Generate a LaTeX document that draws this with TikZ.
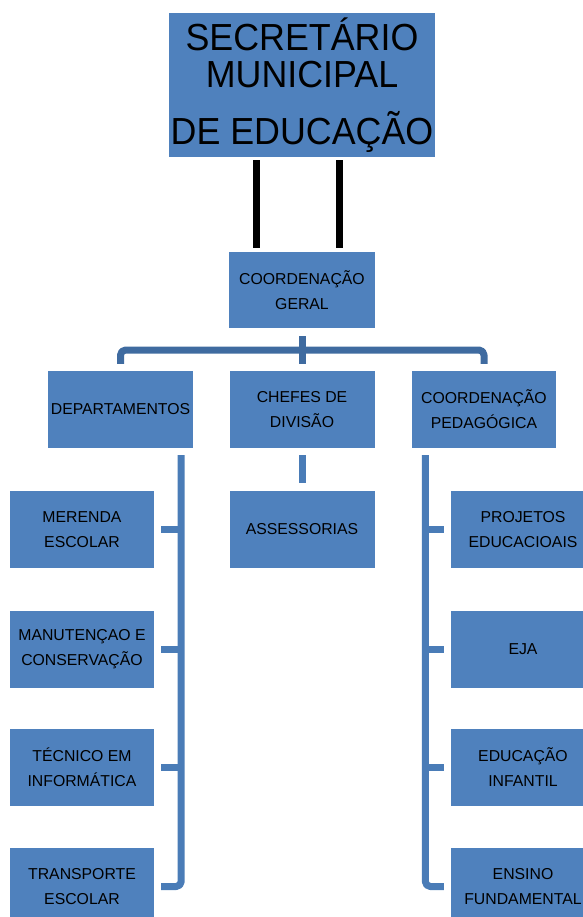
\documentclass[tikz,border=0pt]{standalone}
\usepackage{fontspec}
\setmainfont{Liberation Sans}
\newfontfamily\titlefont[FakeStretch=0.95]{Liberation Sans}
\definecolor{caixa}{HTML}{4F81BD}
\definecolor{linha}{HTML}{4A7CB7}
\definecolor{barra}{HTML}{3F6BA0}
\begin{document}
\begin{tikzpicture}[x=1pt,y=-1pt,line join=round,
	caixa/.style={fill=caixa,inner sep=0pt,align=center,minimum width=145pt,minimum height=77pt,font=\fontsize{15.8}{25}\selectfont},
	ligacao/.style={draw=linha,line width=7pt},
	preta/.style={draw=black,line width=7pt}]
	\useasboundingbox (0,0) rectangle (582,917);
	\def\xe{82} % coluna esquerda
	\def\xd{523} % coluna direita
	% caixas de cima
	\node[caixa,minimum width=266pt,minimum height=144pt,font=\titlefont\fontsize{37.7}{37}\selectfont] (sec) at (302,85) {SECRETÁRIO\\MUNICIPAL\\[20pt]DE EDUCAÇÃO};
	\node[caixa,minimum width=146pt,minimum height=76pt] (geral) at (302,290) {COORDENAÇÃO\\GERAL};
	\node[caixa] (dep) at (120.5,409.5) {DEPARTAMENTOS};
	\node[caixa] (chefes) at (302,409.5) {CHEFES DE\\DIVISÃO};
	\node[caixa,minimum width=144pt] (ped) at (484,409.5) {COORDENAÇÃO\\PEDAGÓGICA};
	\node[caixa] (ass) at (302,529.5) {ASSESSORIAS};
	% coluna esquerda
	\node[caixa,minimum width=144pt] (mer) at (\xe,529.5) {MERENDA\\ESCOLAR};
	\node[caixa,minimum width=144pt] (man) at (\xe,649) {MANUTENÇAO E\\CONSERVAÇÃO};
	\node[caixa,minimum width=144pt] (tec) at (\xe,767) {TÉCNICO EM\\INFORMÁTICA};
	\node[caixa,minimum width=144pt] (trans) at (\xe,886.5) {TRANSPORTE\\ESCOLAR};
	% coluna direita
	\node[caixa,minimum width=144pt] (proj) at (\xd,529.5) {PROJETOS\\EDUCACIOAIS};
	\node[caixa,minimum width=144pt] (eja) at (\xd,649) {EJA};
	\node[caixa,minimum width=144pt] (infa) at (\xd,767) {EDUCAÇÃO\\INFANTIL};
	\node[caixa,minimum width=144pt] (ensi) at (\xd,886.5) {ENSINO\\FUNDAMENTAL};
	% barras pretas
	\draw[preta] ([xshift=-46pt,yshift=-3pt]sec.south) -- ([xshift=-46pt,yshift=4pt]geral.north);
	\draw[preta] ([xshift=37pt,yshift=-3pt]sec.south) -- ([xshift=37pt,yshift=4pt]geral.north);
	% ligacoes do meio
	\path (302,350) coordinate (B)
	([xshift=-12pt,yshift=-7pt]dep.south east) coordinate (E)
	([xshift=13.5pt,yshift=-7pt]ped.south west) coordinate (D);
	\draw[ligacao,draw=barra,rounded corners=5pt] ([yshift=7pt]dep.north) |- (B) -| ([yshift=7pt]ped.north);
	\draw[ligacao,draw=barra] ([yshift=-8pt]geral.south) -- ([yshift=7pt]chefes.north);
	\draw[ligacao] ([yshift=-7pt]chefes.south) -- ([yshift=8pt]ass.north);
	% ligacoes das colunas
	\draw[ligacao,rounded corners=5pt] (E) |- ([xshift=7pt]trans.east);
	\foreach \n in {mer,man,tec}
	\draw[ligacao] ([xshift=7pt]\n.east) -- (\n.east -| E);
	\draw[ligacao,rounded corners=5pt] (D) |- ([xshift=-7pt]ensi.west);
	\foreach \n in {proj,eja,infa}
	\draw[ligacao] ([xshift=-7pt]\n.west) -- (\n.west -| D);
\end{tikzpicture}
\end{document}
